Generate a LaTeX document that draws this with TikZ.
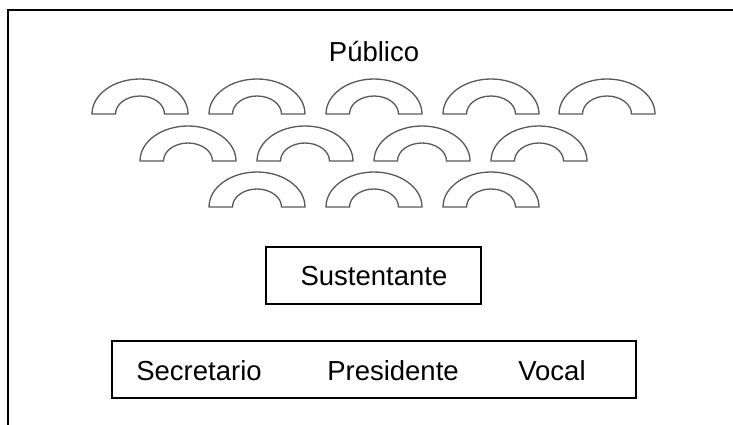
\documentclass[tikz,border=0pt]{standalone}
\usepackage{fontspec}
\setmainfont{Liberation Sans}
\begin{document}
\begin{tikzpicture}[x=1pt,y=1pt,
  lbl/.style={inner sep=0pt,font=\fontsize{27.5}{30}\selectfont},
  boxed/.style={draw=black,line width=1.4pt},
  arch/.style={draw=black!65,line width=1.3pt,fill=white}]
\useasboundingbox (0,0) rectangle (733,-424);
% outer frame (open at right and bottom edges)
\draw[line width=1.5pt] (8,-430) -- (8,-10) -- (740,-10);
\node[lbl] (pub) at (374,-52) {Público};
% arches
\foreach \cx/\by in {140/114,257/114,374/114,491/114,607/114,
                     188/161,305/161,422/161,539/161,
                     257/207,374/207,491/207}{
  \draw[arch] (\cx-48,-\by) arc[start angle=180,end angle=0,x radius=48,y radius=35]
     -- (\cx+24.5,-\by) arc[start angle=0,end angle=180,x radius=24.5,y radius=18] -- cycle;
}
\draw[boxed] (266,-247) rectangle (481,-304);
\node[lbl] (sus) at (374,-276) {Sustentante};
\draw[boxed] (112,-341) rectangle (636,-398);
\node[lbl] (sec) at (199,-371) {Secretario};
\node[lbl] (pre) at (393,-371) {Presidente};
\node[lbl] (voc) at (552,-371) {Vocal};
\end{tikzpicture}
\end{document}
